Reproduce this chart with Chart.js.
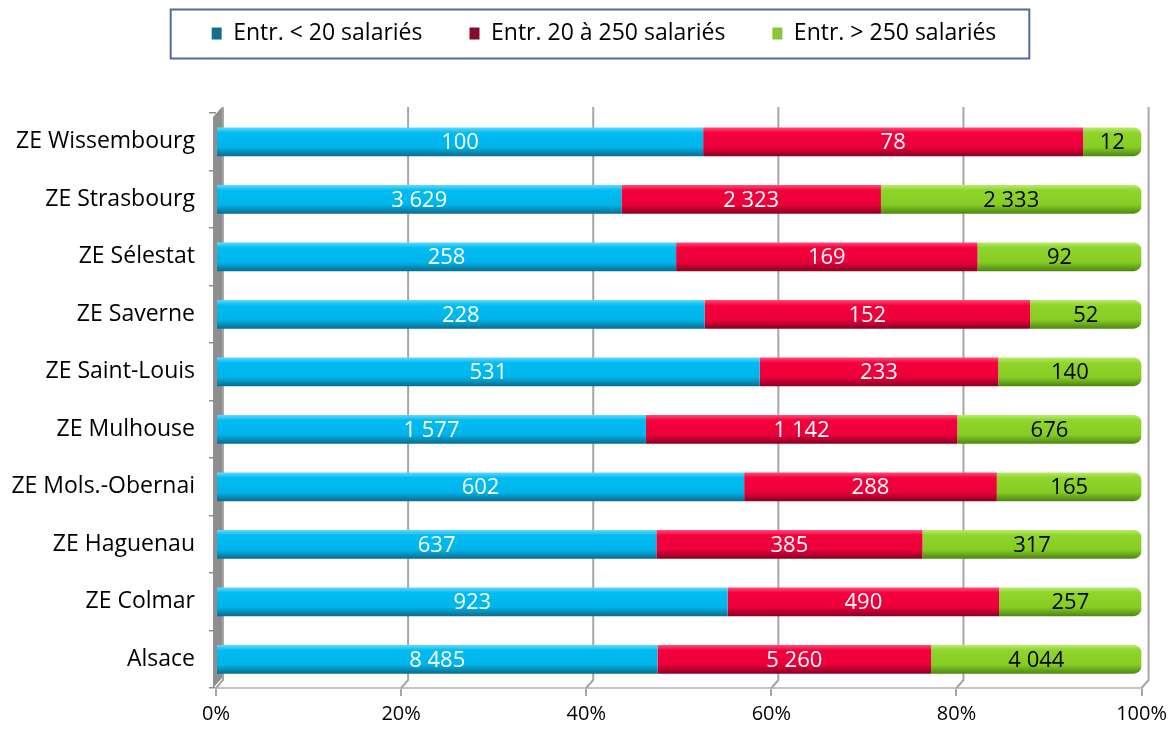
<!DOCTYPE html>
<html>
<head>
<meta charset="utf-8">
<script src="https://cdn.jsdelivr.net/npm/chart.js@4/dist/chart.umd.min.js"></script>
<style>
  html, body { margin: 0; padding: 0; background: #fff; }
  #wrap { width: 1173px; height: 729px; }
</style>
</head>
<body>
<div id="wrap"><canvas id="myChart"></canvas></div>
<script>
const zones = ['ZE Wissembourg', 'ZE Strasbourg', 'ZE Sélestat', 'ZE Saverne', 'ZE Saint-Louis',
  'ZE Mulhouse', 'ZE Mols.-Obernai', 'ZE Haguenau', 'ZE Colmar', 'Alsace']
const seriesNames = ['Entr. < 20 salariés', 'Entr. 20 à 250 salariés', 'Entr. > 250 salariés']
const small = [100, 3629, 258, 228, 531, 1577, 602, 637, 923, 8485]
const medium = [78, 2323, 169, 152, 233, 1142, 288, 385, 490, 5260]
const large = [12, 2333, 92, 52, 140, 676, 165, 317, 257, 4044]
const xTicks = ['0%', '20%', '40%', '60%', '80%', '100%']

const counts = [small, medium, large]
const totals = zones.map((z, i) => small[i] + medium[i] + large[i])
const shares = counts.map(arr => arr.map((v, i) => v / totals[i] * 100))

// bar colours: top light, body, bottom shade
const barColors = [
  ['#5fd6fb', '#00bcf2', '#00b4ea', '#0a6f92'],
  ['#ff4a72', '#f5003d', '#ea003a', '#8e0024'],
  ['#b6ea6a', '#8fd52b', '#86cc24', '#4f8a12']
]
const legendColors = ['#176c8e', '#870b2c', '#8cc43a']
const labelColors = ['#ffffff', '#ffffff', '#000000']
const fontFam = '"Open Sans", "Noto Sans", sans-serif'

const fmt = n => String(n).replace(/\B(?=(\d{3})+(?!\d))/g, ' ')

const barGradient = (ctx, k) => {
  const chart = ctx.chart
  const c = barColors[k]
  if (!chart.chartArea || !chart.scales.y) return c[1]
  const y = chart.scales.y.getPixelForValue(ctx.dataIndex)
  const half = 14
  const g = chart.ctx.createLinearGradient(0, y - half, 0, y + half)
  g.addColorStop(0, c[0])
  g.addColorStop(0.18, c[1])
  g.addColorStop(0.7, c[2])
  g.addColorStop(1, c[3])
  return g
}

// gray side wall + back-wall gridlines (3d look)
const wallPlugin = {
  id: 'wall',
  beforeDatasetsDraw(chart) {
    const { ctx, chartArea } = chart
    const xs = chart.scales.x
    const d = 7
    ctx.save()
    ctx.strokeStyle = '#a6a6a6'
    ctx.lineWidth = 2
    xs.ticks.forEach((t, i) => {
      const x = xs.getPixelForTick(i)
      ctx.beginPath()
      ctx.moveTo(x, chartArea.bottom)
      ctx.lineTo(x + d, chartArea.bottom - 8)
      ctx.lineTo(x + d, chartArea.top - 6)
      ctx.stroke()
    })
    ctx.fillStyle = '#8e8e8e'
    ctx.beginPath()
    ctx.moveTo(chartArea.left - 3, chartArea.top + 4)
    ctx.lineTo(chartArea.left + 6, chartArea.top - 6)
    ctx.lineTo(chartArea.left + 6, chartArea.bottom - 10)
    ctx.lineTo(chartArea.left - 3, chartArea.bottom)
    ctx.closePath()
    ctx.fill()
    ctx.restore()
  }
}

const valueLabels = {
  id: 'valueLabels',
  afterDatasetsDraw(chart) {
    const ctx = chart.ctx
    ctx.save()
    ctx.font = '22px ' + fontFam
    ctx.textAlign = 'center'
    ctx.textBaseline = 'middle'
    chart.data.datasets.forEach((ds, k) => {
      const meta = chart.getDatasetMeta(k)
      meta.data.forEach((bar, i) => {
        const p = bar.getCenterPoint()
        ctx.fillStyle = labelColors[k]
        ctx.fillText(fmt(counts[k][i]), p.x, p.y + 1)
      })
    })
    ctx.restore()
  }
}

const legendFrame = {
  id: 'legendFrame',
  beforeInit(chart) {
    const legend = chart.legend
    if (!legend) return
    const origFit = legend.fit
    legend.fit = function () {
      origFit.call(this)
      this.height = 138
    }
  },
  afterLayout(chart) {
    // legend is centred over the plot rather than the whole canvas
    chart.legend.left = 63
  },
  afterDraw(chart) {
    const boxes = chart.legend.legendHitBoxes
    if (!boxes || !boxes.length) return
    const left = Math.min(...boxes.map(b => b.left)) - 41
    const right = Math.max(...boxes.map(b => b.left + b.width)) + 33
    const mid = boxes[0].top + boxes[0].height / 2
    const ctx = chart.ctx
    ctx.save()
    ctx.strokeStyle = '#4e6c9a'
    ctx.lineWidth = 2
    ctx.strokeRect(left, mid - 24, right - left, 49)
    ctx.restore()
  }
}

const data = {
  labels: zones,
  datasets: seriesNames.map((name, k) => ({
    label: name,
    data: shares[k],
    backgroundColor: ctx => barGradient(ctx, k),
    borderWidth: 0,
    borderRadius: k === 1 ? 0 : 8,
    borderSkipped: k === 0 ? 'end' : (k === 2 ? 'start' : false),
    barPercentage: 0.5,
    categoryPercentage: 1
  }))
}

const config = {
  type: 'bar',
  data: data,
  options: {
    indexAxis: 'y',
    responsive: true,
    maintainAspectRatio: false,
    animation: false,
    layout: { padding: { top: -25, right: 28, left: 0, bottom: 0 } },
    plugins: {
      tooltip: { enabled: false },
      legend: {
        position: 'top',
        labels: {
          font: { size: 23, family: fontFam },
          color: '#000',
          boxWidth: 10,
          boxHeight: 12,
          padding: 47,
          generateLabels: chart => seriesNames.map((name, k) => ({
            text: name,
            fillStyle: legendColors[k],
            strokeStyle: legendColors[k],
            lineWidth: 0,
            hidden: false,
            datasetIndex: k
          }))
        }
      }
    },
    scales: {
      x: {
        stacked: true,
        min: 0,
        max: 100,
        ticks: {
          stepSize: 20,
          padding: 6,
          color: '#000',
          font: { size: 20, family: fontFam },
          callback: (v, i) => xTicks[i]
        },
        grid: { drawOnChartArea: false, color: '#a6a6a6', lineWidth: 2, tickLength: 8, tickColor: '#a6a6a6' },
        border: { color: '#c4c4c4', width: 2 },
        afterFit: scale => { scale.height = 41 }
      },
      y: {
        stacked: true,
        ticks: {
          padding: 14,
          color: '#000',
          font: { size: 23, family: fontFam }
        },
        grid: { drawOnChartArea: false, drawTicks: true, tickLength: 7, color: '#8e8e8e', lineWidth: 1.5 },
        border: { display: false },
        afterFit: scale => { scale.width = 216 }
      }
    }
  },
  plugins: [wallPlugin, valueLabels, legendFrame]
}

const myChart = new Chart(document.getElementById('myChart'), config)
</script>
</body>
</html>
